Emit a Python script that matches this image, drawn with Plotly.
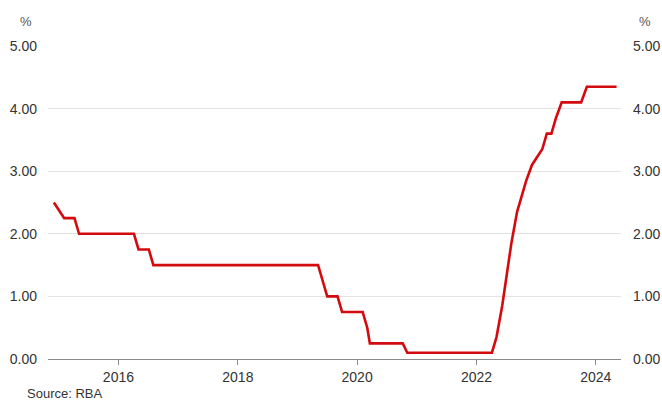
import plotly.graph_objects as go

# RBA cash rate target at each Board meeting (decision dates)
dates = [
    "2014-12-02",
    "2015-02-03", "2015-03-03", "2015-04-07", "2015-05-05", "2015-06-02", "2015-07-07",
    "2015-08-04", "2015-09-01", "2015-10-06", "2015-11-03", "2015-12-01",
    "2016-02-02", "2016-03-01", "2016-04-05", "2016-05-03", "2016-06-07", "2016-07-05",
    "2016-08-02", "2016-09-06", "2016-10-04", "2016-11-01", "2016-12-06",
    "2017-02-07", "2017-03-07", "2017-04-04", "2017-05-02", "2017-06-06", "2017-07-04",
    "2017-08-01", "2017-09-05", "2017-10-03", "2017-11-07", "2017-12-05",
    "2018-02-06", "2018-03-06", "2018-04-03", "2018-05-01", "2018-06-05", "2018-07-03",
    "2018-08-07", "2018-09-04", "2018-10-02", "2018-11-06", "2018-12-04",
    "2019-02-05", "2019-03-05", "2019-04-02", "2019-05-07", "2019-06-04", "2019-07-02",
    "2019-08-06", "2019-09-03", "2019-10-01", "2019-11-05", "2019-12-03",
    "2020-02-04", "2020-03-03", "2020-03-19", "2020-04-07", "2020-05-05", "2020-06-02",
    "2020-07-07", "2020-08-04", "2020-09-01", "2020-10-06", "2020-11-03", "2020-12-01",
    "2021-02-02", "2021-03-02", "2021-04-06", "2021-05-04", "2021-06-01", "2021-07-06",
    "2021-08-03", "2021-09-07", "2021-10-05", "2021-11-02", "2021-12-07",
    "2022-02-01", "2022-03-01", "2022-04-05", "2022-05-03", "2022-06-07", "2022-07-05",
    "2022-08-02", "2022-09-06", "2022-10-04", "2022-11-01", "2022-12-06",
    "2023-02-07", "2023-03-07", "2023-04-04", "2023-05-02", "2023-06-06", "2023-07-04",
    "2023-08-01", "2023-09-05", "2023-10-03", "2023-11-07", "2023-12-05",
    "2024-02-06", "2024-03-19", "2024-05-07",
]
rates = [
    2.50,
    2.25, 2.25, 2.25, 2.00, 2.00, 2.00, 2.00, 2.00, 2.00, 2.00, 2.00,
    2.00, 2.00, 2.00, 1.75, 1.75, 1.75, 1.50, 1.50, 1.50, 1.50, 1.50,
    1.50, 1.50, 1.50, 1.50, 1.50, 1.50, 1.50, 1.50, 1.50, 1.50, 1.50,
    1.50, 1.50, 1.50, 1.50, 1.50, 1.50, 1.50, 1.50, 1.50, 1.50, 1.50,
    1.50, 1.50, 1.50, 1.50, 1.25, 1.00, 1.00, 1.00, 0.75, 0.75, 0.75,
    0.75, 0.50, 0.25, 0.25, 0.25, 0.25, 0.25, 0.25, 0.25, 0.25, 0.10, 0.10,
    0.10, 0.10, 0.10, 0.10, 0.10, 0.10, 0.10, 0.10, 0.10, 0.10, 0.10,
    0.10, 0.10, 0.10, 0.35, 0.85, 1.35, 1.85, 2.35, 2.60, 2.85, 3.10,
    3.35, 3.60, 3.60, 3.85, 4.10, 4.10, 4.10, 4.10, 4.10, 4.35, 4.35,
    4.35, 4.35, 4.35,
]

year_ticks = ["2016-01-01", "2018-01-01", "2020-01-01", "2022-01-01", "2024-01-01"]
year_labels = ["2016", "2018", "2020", "2022", "2024"]
y_ticks = [0, 1, 2, 3, 4, 5]

RED = "#d40a0f"
TXT = "#333333"
GRID = "#e3e3e3"
AXIS = "#8a8a8a"
FONT = "Liberation Sans, Arial, sans-serif"

fig = go.Figure()
fig.add_trace(go.Scatter(x=dates, y=rates, mode="lines",
                         line=dict(color=RED, width=2.6), yaxis="y",
                         showlegend=False, hoverinfo="x+y"))
fig.add_trace(go.Scatter(x=dates, y=rates, mode="lines",
                         line=dict(color="rgba(0,0,0,0)", width=0), yaxis="y2",
                         showlegend=False, hoverinfo="skip"))

W, H = 662, 401
L, R, T, B = 48, 41, 46, 42
pw = W - L - R
ph = H - T - B

fig.update_layout(
    width=W, height=H,
    margin=dict(l=L, r=R, t=T, b=B, pad=0, autoexpand=False),
    paper_bgcolor="white", plot_bgcolor="white",
    font=dict(family=FONT, size=14, color=TXT),
    xaxis=dict(
        type="date",
        range=["2014-10-27", "2024-06-03"],
        tickvals=year_ticks, ticktext=year_labels,
        ticks="outside", ticklen=5, tickcolor=AXIS, tickwidth=1,
        showline=True, linecolor=AXIS, linewidth=1,
        showgrid=False, zeroline=False, automargin=False,
        tickfont=dict(size=14, color=TXT),
    ),
    yaxis=dict(
        range=[0, 5], tickvals=y_ticks, tickformat=".2f",
        showgrid=True, gridcolor=GRID, gridwidth=1,
        zeroline=False, showline=False, ticks="", automargin=False,
        ticklabelstandoff=10,
        tickfont=dict(size=14, color=TXT),
    ),
    yaxis2=dict(
        range=[0, 5], tickvals=y_ticks, tickformat=".2f",
        overlaying="y", side="right", anchor="x",
        showgrid=False, zeroline=False, showline=False, ticks="", automargin=False,
        ticklabelstandoff=11,
        tickfont=dict(size=14, color=TXT),
    ),
)

fig.add_annotation(text="%", xref="paper", yref="paper",
                   x=(26 - L) / pw, y=(H - B - 22) / ph,
                   xanchor="center", yanchor="middle", showarrow=False,
                   font=dict(size=13, color="#555555"))
fig.add_annotation(text="%", xref="paper", yref="paper",
                   x=(645 - L) / pw, y=(H - B - 22) / ph,
                   xanchor="center", yanchor="middle", showarrow=False,
                   font=dict(size=13, color="#555555"))
fig.add_annotation(text="Source: RBA", xref="paper", yref="paper",
                   x=(25 - L) / pw, y=(H - B - 393) / ph,
                   xanchor="left", yanchor="middle", showarrow=False,
                   font=dict(size=13, color=TXT))

fig.write_html("out.html")
